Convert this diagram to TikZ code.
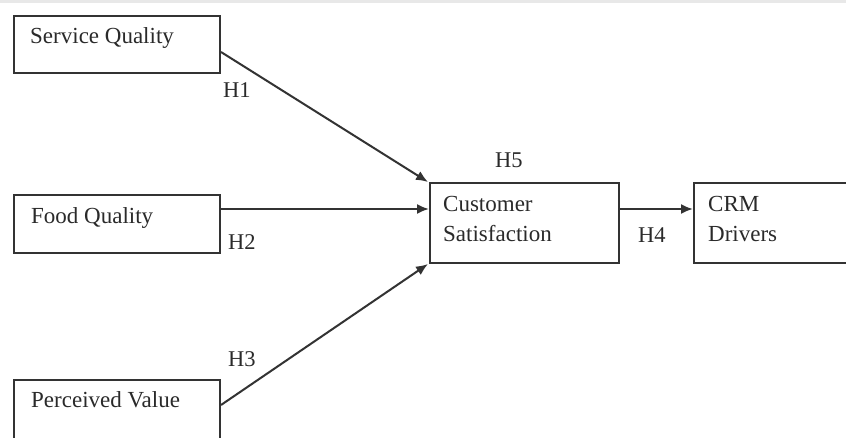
\documentclass[tikz,border=0pt]{standalone}
\usepackage{fontspec}
\setmainfont{Liberation Serif}
\usetikzlibrary{arrows.meta,calc}
\definecolor{ink}{HTML}{333333}
\definecolor{txt}{HTML}{2A2A2A}
\tikzset{
  box/.style={draw=ink, line width=2pt, fill=none, inner sep=0pt},
  lbl/.style={font=\fontsize{23}{27}\selectfont, text=txt, inner sep=0pt, anchor=base west},
  hyp/.style={font=\fontsize{22.5}{26}\selectfont, text=txt, inner sep=0pt, anchor=base west},
  arr/.style={draw=ink, line width=2pt, -{Latex[length=12pt,width=10pt]}},
}
\begin{document}
\begin{tikzpicture}[x=1pt,y=-1pt]
\useasboundingbox (0,0) rectangle (846,437);
\clip (0,0) rectangle (846,437);
\fill[white] (0,0) rectangle (846,437);
\fill[black!9] (0,0) rectangle (846,3);
% boxes
\node[box, minimum width=206pt, minimum height=57pt] (sq) at (117,44.5) {};
\node[box, minimum width=206pt, minimum height=58pt] (fq) at (117,224) {};
\node[box, minimum width=206pt, minimum height=70pt] (pv) at (117,415) {};
\node[box, minimum width=189pt, minimum height=80pt] (cs) at (524.5,223) {};
\node[box, minimum width=170pt, minimum height=80pt] (crm) at (779,223) {};
% texts
\node[lbl] (sqt) at (30,43) {Service Quality};
\node[lbl] (fqt) at (31,223) {Food Quality};
\node[lbl] (pvt) at (31,407) {Perceived Value};
\node[lbl] (cst1) at (443,211) {Customer};
\node[lbl] (cst2) at (443,241) {Satisfaction};
\node[lbl] (crmt1) at (708,211) {CRM};
\node[lbl] (crmt2) at (708,241) {Drivers};
% hypotheses
\node[hyp] (h1) at (223,97) {H1};
\node[hyp] (h2) at (228,249) {H2};
\node[hyp] (h3) at (228,366) {H3};
\node[hyp] (h5) at (495,167) {H5};
\node[hyp] (h4) at (638,242) {H4};
% connectors
\draw[arr] ([yshift=-7.5pt]sq.east) -- ([xshift=-1pt]cs.north west);
\draw[arr] ([yshift=15pt]fq.east) -- ([yshift=14pt]cs.west);
\draw[arr] ([yshift=10pt]pv.east) -- ([xshift=-1pt]cs.south west);
\draw[arr] ([yshift=14pt]cs.east) -- ([yshift=14pt]crm.west);
\end{tikzpicture}
\end{document}
